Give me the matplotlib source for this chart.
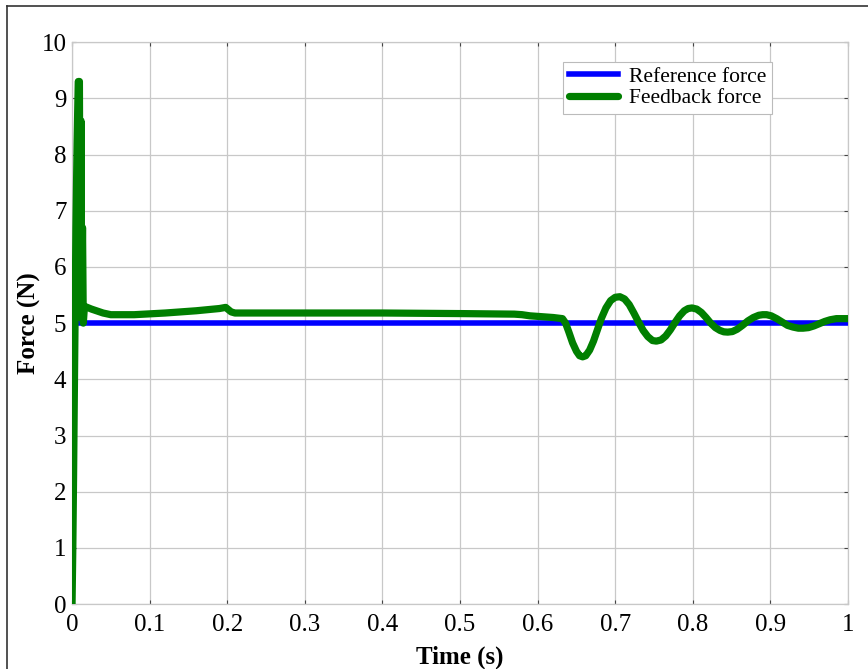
import matplotlib.pyplot as plt
from matplotlib.lines import Line2D

# tiempo (s) y fuerza (N)
t_ref = [0.0, 1.0]
f_ref = [5.0, 5.0]

t_fb = [0.0, 0.001, 0.002, 0.003, 0.004, 0.005, 0.0065, 0.008, 0.0095, 0.0105,
        0.0115, 0.0125, 0.0135, 0.0145, 0.016, 0.025, 0.04, 0.05, 0.08, 0.12,
        0.16, 0.19, 0.198, 0.205, 0.21, 0.3, 0.4, 0.5, 0.57, 0.58,
        0.59, 0.6, 0.62, 0.632, 0.636, 0.640, 0.645, 0.650, 0.654, 0.658,
        0.662, 0.667, 0.672, 0.677, 0.682, 0.688, 0.694, 0.700, 0.706, 0.712,
        0.718, 0.724, 0.730, 0.736, 0.742, 0.748, 0.753, 0.759, 0.765, 0.771,
        0.777, 0.783, 0.789, 0.794, 0.799, 0.805, 0.811, 0.817, 0.823, 0.829,
        0.835, 0.840, 0.845, 0.851, 0.857, 0.864, 0.871, 0.878, 0.885, 0.890,
        0.895, 0.901, 0.908, 0.915, 0.922, 0.929, 0.936, 0.942, 0.949, 0.956,
        0.963, 0.970, 0.977, 0.985, 0.992, 1.0]
f_fb = [0.0, 1.0, 2.3, 3.8, 5.2, 6.7, 8.2, 9.3, 9.3, 5.1,
        8.6, 5.3, 6.7, 5.0, 5.3, 5.25, 5.18, 5.15, 5.15, 5.18,
        5.22, 5.26, 5.28, 5.2, 5.18, 5.18, 5.18, 5.17, 5.16, 5.15,
        5.13, 5.12, 5.1, 5.08, 5.0, 4.85, 4.65, 4.50, 4.42, 4.40,
        4.42, 4.52, 4.68, 4.88, 5.08, 5.27, 5.40, 5.46, 5.47, 5.43,
        5.33, 5.18, 5.02, 4.87, 4.76, 4.69, 4.68, 4.70, 4.77, 4.88,
        5.01, 5.13, 5.22, 5.26, 5.27, 5.25, 5.19, 5.10, 5.00, 4.92,
        4.87, 4.845, 4.84, 4.85, 4.89, 4.96, 5.04, 5.10, 5.14, 5.15,
        5.15, 5.13, 5.08, 5.02, 4.96, 4.93, 4.91, 4.91, 4.92, 4.95,
        4.99, 5.03, 5.06, 5.08, 5.08, 5.08]

x_ticks = [0, 0.1, 0.2, 0.3, 0.4, 0.5, 0.6, 0.7, 0.8, 0.9, 1]
x_labels = ['0', '0.1', '0.2', '0.3', '0.4', '0.5', '0.6', '0.7', '0.8', '0.9', '1']
y_ticks = list(range(0, 11))

plt.rcParams['font.family'] = ['Liberation Serif', 'DejaVu Serif']

fig = plt.figure(figsize=(8.68, 6.69), dpi=100)
ax = fig.add_axes([0.083, 0.097, 0.894, 0.840])

ax.plot(t_ref, f_ref, color='#0000ff', linewidth=4, label='Reference force', zorder=3)
ax.plot(t_fb, f_fb, color='#007f00', linewidth=5.2, label='Feedback force',
        solid_joinstyle='round', solid_capstyle='round', zorder=4)

ax.set_xlim(0, 1)
ax.set_ylim(0, 10)
ax.set_xticks(x_ticks)
ax.set_xticklabels(x_labels)
ax.set_yticks(y_ticks)
ax.grid(True, color='#c8c8c8', linewidth=0.9)
ax.tick_params(direction='in', length=3, width=0.8, color='#444444',
               top=True, right=True, labelsize=18)
ax.tick_params(axis='x', pad=7)
ax.tick_params(axis='y', pad=4)
for s in ax.spines.values():
    s.set_color('#c8c8c8')
    s.set_linewidth(0.9)

ax.set_xlabel('Time (s)', fontsize=18, fontweight='bold', labelpad=7)
ax.set_ylabel('Force (N)', fontsize=18, fontweight='bold', labelpad=0)

leg = ax.legend(loc='upper right', bbox_to_anchor=(0.91, 0.977), fontsize=15.5,
                fancybox=False, framealpha=1, edgecolor='#bbbbbb',
                handlelength=2.3, borderpad=0.25, labelspacing=0.05,
                handletextpad=0.5, borderaxespad=0.3)
leg.get_frame().set_linewidth(0.8)

# marco exterior de la figura (solo arriba e izquierda visibles)
fig.add_artist(Line2D([7 / 868, 1], [1 - 6 / 669, 1 - 6 / 669], color='#333333', linewidth=1.2))
fig.add_artist(Line2D([7 / 868, 7 / 868], [0, 1 - 6 / 669], color='#333333', linewidth=1.2))

fig.savefig('out.png', dpi=100)
